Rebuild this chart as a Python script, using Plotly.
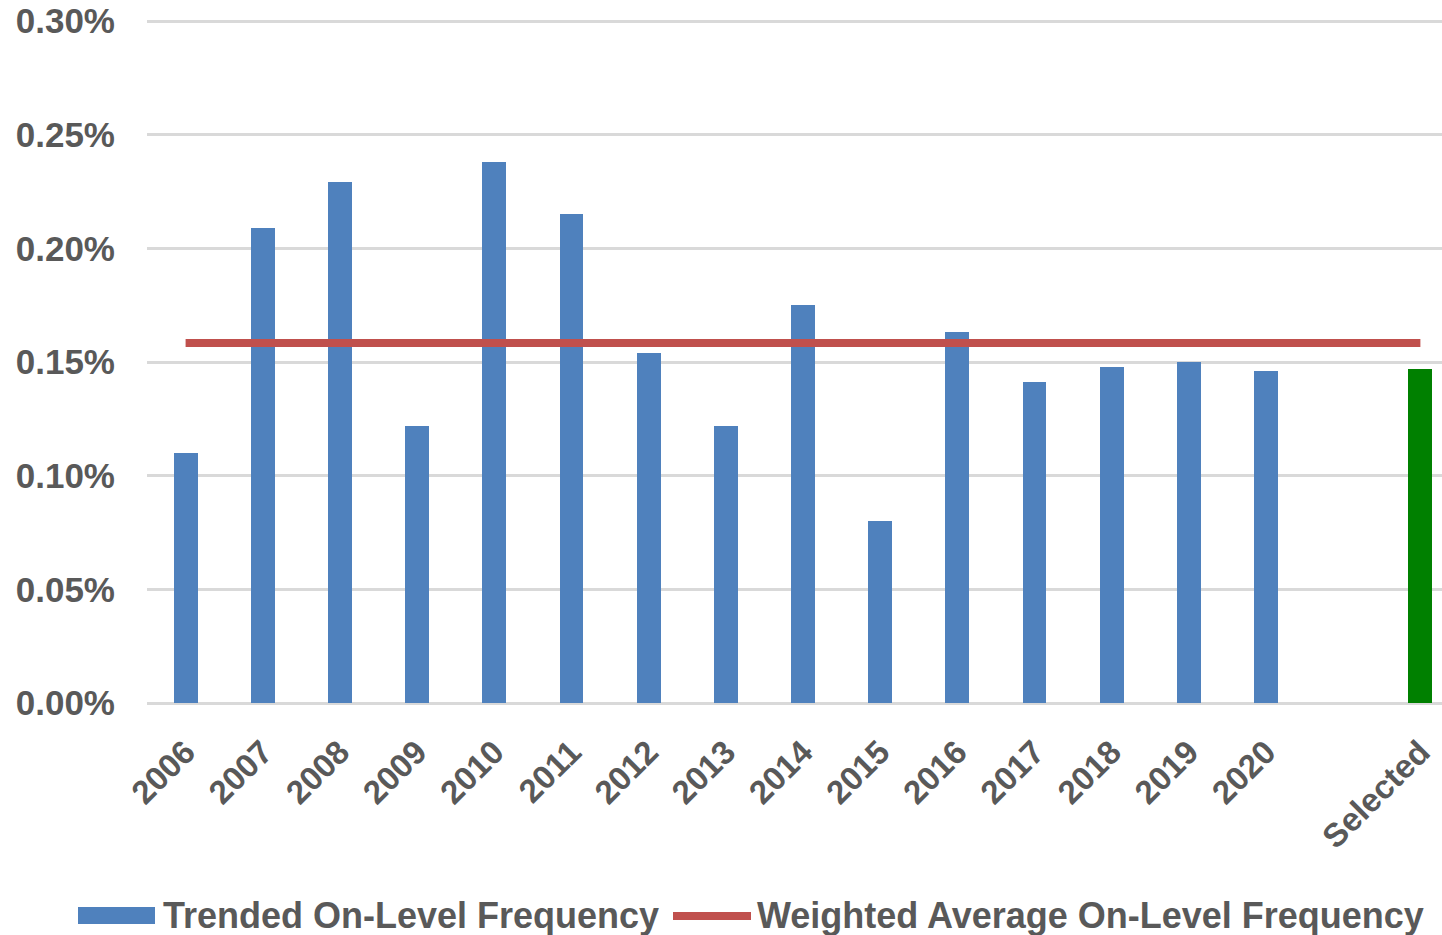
import plotly.graph_objects as go

# Accident years plus a blank spacer slot before the selected value
categories = ["2006", "2007", "2008", "2009", "2010", "2011", "2012", "2013",
              "2014", "2015", "2016", "2017", "2018", "2019", "2020", " ", "Selected"]
year_labels = categories[:15]
trended_freq = [0.00110, 0.00209, 0.00229, 0.00122, 0.00238, 0.00215, 0.00154, 0.00122,
                0.00175, 0.00080, 0.00163, 0.00141, 0.00148, 0.00150, 0.00146]
selected_freq = 0.00147
weighted_avg = 0.001584

y_ticks = [0, 0.0005, 0.0010, 0.0015, 0.0020, 0.0025, 0.0030]

TEXT = "#595959"
FONT = "Liberation Sans, Arial, sans-serif"

fig = go.Figure()

fig.add_trace(go.Bar(
    x=year_labels, y=trended_freq, width=0.31,
    marker=dict(color="#4f81bd", line=dict(width=0)),
    name="Trended On-Level Frequency", showlegend=False,
))
fig.add_trace(go.Bar(
    x=["Selected"], y=[selected_freq], width=0.31,
    marker=dict(color="#008000", line=dict(width=0)),
    name="Selected", showlegend=False,
))
fig.add_trace(go.Scatter(
    x=[categories[0], categories[-1]], y=[weighted_avg, weighted_avg],
    mode="lines", line=dict(color="#c0504d", width=8),
    name="Weighted Average On-Level Frequency", showlegend=False,
))

W, H = 1442, 935
L, T, B = 147, 18, 232
plot_h = H - T - B
plot_w = W - L

def px_x(px):
    return (px - L) / plot_w

def px_y(py):
    return (H - B - py) / plot_h

# Legend drawn below the plot
fig.add_shape(type="rect", xref="paper", yref="paper",
              x0=px_x(78), x1=px_x(155), y0=px_y(924), y1=px_y(907),
              fillcolor="#4f81bd", line=dict(width=0))
fig.add_shape(type="line", xref="paper", yref="paper",
              x0=px_x(673), x1=px_x(751), y0=px_y(916), y1=px_y(916),
              line=dict(color="#c0504d", width=8))
fig.add_annotation(xref="paper", yref="paper", x=px_x(161), y=px_y(916),
                   xanchor="left", yanchor="middle", showarrow=False,
                   text="Trended On-Level Frequency",
                   font=dict(family=FONT, size=36, color=TEXT, weight="bold"))
fig.add_annotation(xref="paper", yref="paper", x=px_x(755), y=px_y(916),
                   xanchor="left", yanchor="middle", showarrow=False,
                   text="Weighted Average On-Level Frequency",
                   font=dict(family=FONT, size=36, color=TEXT, weight="bold"))

fig.update_layout(
    width=W, height=H,
    margin=dict(l=L, r=0, t=T, b=B, pad=0),
    plot_bgcolor="white", paper_bgcolor="white",
    bargap=0,
    font=dict(family=FONT, color=TEXT),
    xaxis=dict(
        type="category", categoryorder="array", categoryarray=categories,
        range=[-0.5, 16.28], tickangle=-45, showgrid=False,
        showline=False, ticks="", ticklabelstandoff=22,
        tickfont=dict(family=FONT, size=33, color=TEXT, weight="bold"),
    ),
    yaxis=dict(
        range=[0, 0.0030132], tickvals=y_ticks, tickformat=".2%",
        showgrid=True, gridcolor="#d9d9d9", gridwidth=2.5,
        zeroline=True, zerolinecolor="#d9d9d9", zerolinewidth=2.5,
        showline=False, ticks="", ticklabelstandoff=31,
        tickfont=dict(family=FONT, size=35, color=TEXT, weight="bold"),
    ),
)

fig.write_html("out.html")
